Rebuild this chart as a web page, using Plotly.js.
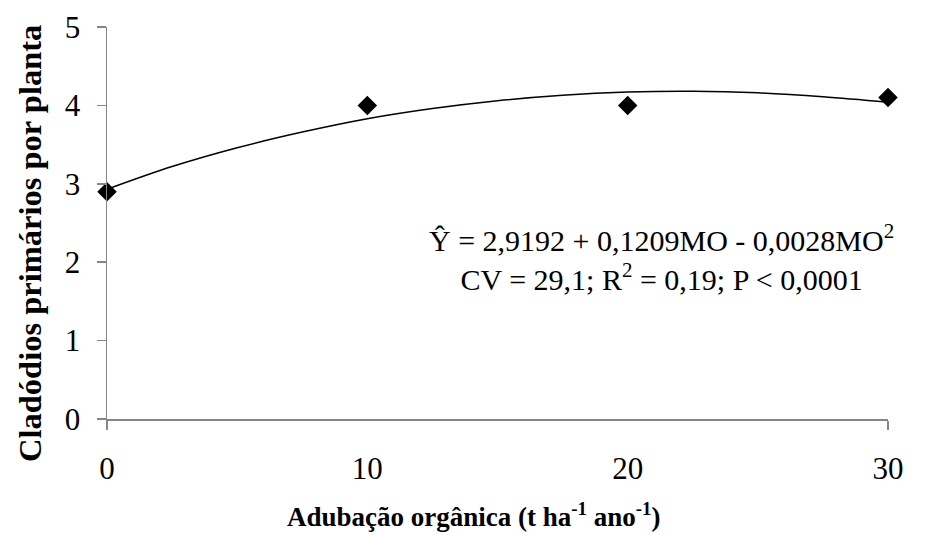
<!DOCTYPE html>
<html>
<head>
<meta charset="utf-8">
<script src="https://cdn.plot.ly/plotly-3.0.1.min.js"></script>
<style>html,body{margin:0;padding:0;background:#fff;}#chart{width:929px;height:535px;}</style>
</head>
<body>
<div id="chart"></div>
<script>
// Observed means
const doses = [0, 10, 20, 30];
const cladodios = [2.9, 4.0, 4.0, 4.1];
// Fitted curve
const curveX = [0, 2.5, 5, 7.5, 10, 12.5, 15, 17.5, 20, 22.5, 25, 27.5, 30];
const curveY = [2.93, 3.22, 3.46, 3.66, 3.83, 3.96, 4.06, 4.13, 4.17, 4.18, 4.16, 4.11, 4.04];
const xTickVals = [0, 10, 20, 30];
const yTickVals = [0, 1, 2, 3, 4, 5];
const xTitle = "<b>Adubação orgânica (t ha<sup>-1</sup> ano<sup>-1</sup>)</b>";
const yTitle = "<b>Cladódios primários por planta</b>";
const eqText = "Ŷ = 2,9192 + 0,1209MO - 0,0028MO<sup>2</sup><br>CV = 29,1; R<sup>2</sup> = 0,19; P &lt; 0,0001";

const serif = "Liberation Serif";
const axisGray = "#868686";

const traces = [
  {x: curveX, y: curveY, mode: "lines", line: {color: "#000", width: 1.5, shape: "spline"}, hoverinfo: "skip", showlegend: false, cliponaxis: false},
  {x: doses, y: cladodios, mode: "markers", marker: {symbol: "diamond", size: 15, color: "#000"}, showlegend: false, cliponaxis: false}
];
// invisible trace on xaxis2 that carries the tick labels
traces.push({x: doses, y: cladodios, xaxis: "x2", mode: "markers", marker: {opacity: 0}, hoverinfo: "skip", showlegend: false});

const layout = {
  width: 929, height: 535,
  margin: {l: 107, r: 41, t: 27, b: 116},
  paper_bgcolor: "#fff", plot_bgcolor: "#fff",
  font: {family: serif, color: "#000"},
  xaxis: {
    range: [0, 30], tickvals: [0, 30], showticklabels: false,
    ticks: "outside", ticklen: 9, tickcolor: axisGray, tickwidth: 1.5,
    showline: true, linecolor: axisGray, linewidth: 1.5,
    showgrid: false, zeroline: false
  },
  xaxis2: {
    range: [0, 30], overlaying: "x", side: "bottom", anchor: "y",
    tickvals: xTickVals, ticktext: xTickVals.map(String), ticks: "",
    ticklabelstandoff: 28,
    tickfont: {family: serif, size: 31, color: "#000"},
    showline: false, showgrid: false, zeroline: false
  },
  yaxis: {
    range: [0, 5], tickvals: yTickVals, ticktext: yTickVals.map(String),
    ticks: "outside", ticklen: 9, tickcolor: axisGray, tickwidth: 1.5,
    ticklabelstandoff: 10,
    tickfont: {family: serif, size: 31, color: "#000"},
    showline: true, linecolor: axisGray, linewidth: 1.5,
    showgrid: false, zeroline: false
  },
  annotations: [
    {
      xref: "x", yref: "y", x: 21.3, y: 2.06, text: eqText, showarrow: false,
      align: "center", xanchor: "center", yanchor: "middle",
      font: {family: serif, size: 30, color: "#000"}
    },
    {
      xref: "paper", yref: "paper", x: 0.470, y: -0.245, text: xTitle, showarrow: false,
      xanchor: "center", yanchor: "middle",
      font: {family: serif, size: 27, color: "#000"}
    },
    {
      xref: "paper", yref: "paper", x: -0.0986, y: 0.449, text: yTitle, showarrow: false,
      textangle: -90, xanchor: "center", yanchor: "middle",
      font: {family: serif, size: 32.5, color: "#000"}
    }
  ]
};

Plotly.newPlot("chart", traces, layout, {displayModeBar: false, staticPlot: true});
</script>
</body>
</html>
